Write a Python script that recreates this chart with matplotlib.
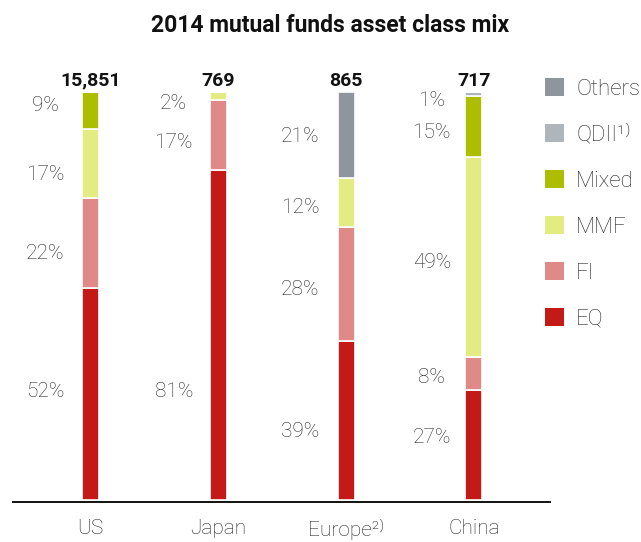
import matplotlib
matplotlib.use("Agg")
import matplotlib.pyplot as plt
from matplotlib.patches import Patch

plt.rcParams['font.family'] = ['Roboto', 'DejaVu Sans']

# data (share of total, %)
regions = ['US', 'Japan', 'Europe²⁾', 'China']
totals = ['15,851', '769', '865', '717']
segments = ['EQ', 'FI', 'MMF', 'Mixed', 'QDII¹⁾', 'Others']
eq = [52, 81, 39, 27]
fi = [22, 17, 28, 8]
mmf = [17, 2, 12, 49]
mixed = [9, 0, 0, 15]
qdii = [0, 0, 0, 1]
others = [0, 0, 21, 0]

# where the designer put each % label (height in bar units), same order as series
label_y = [
    [26.5, 26.5, 16.7, 15.4],   # EQ
    [60.5, 87.5, 51.7, 29.9],   # FI
    [79.7, 97.1, 71.8, 58.1],   # MMF
    [96.8, 0, 0, 90.0],         # Mixed
    [0, 0, 0, 97.8],            # QDII
    [0, 0, 89.2, 0],            # Others
]
label_dx = [-0.355, -0.35, -0.36, -0.33]

colors = ['#C41A17', '#E08A87', '#E3EB83', '#ADBD00', '#AEB5BB', '#8E959C']
series = [eq, fi, mmf, mixed, qdii, others]
txt = '#262626'

fig = plt.figure(figsize=(6.41, 5.42), dpi=100)
ax = fig.add_axes([13 / 641, 40 / 542, 537 / 641, 410 / 542])

x = range(len(regions))
w = 0.133
bottoms = [0] * len(regions)
for k, (vals, c) in enumerate(zip(series, colors)):
    ax.bar(x, vals, w, bottom=bottoms, color=c, edgecolor='white', linewidth=1.2)
    for i, v in enumerate(vals):
        if v > 0:
            ax.text(i + label_dx[i], label_y[k][i], f'{v}%', ha='center', va='center',
                    fontsize=15, fontweight='light', color=txt)
    bottoms = [b + v for b, v in zip(bottoms, vals)]

for i, t in enumerate(totals):
    ax.text(i, 101.5, t, ha='center', va='baseline', fontsize=14,
            fontweight='bold', color='#111111')

ax.set_xlim(-0.608, 3.595)
ax.set_ylim(-0.5, 100)
ax.set_xticks(list(x))
ax.set_xticklabels(regions, fontsize=15, fontweight='light', color=txt)
ax.tick_params(axis='x', length=0, pad=12)
ax.set_yticks([])
for s in ['top', 'right', 'left']:
    ax.spines[s].set_visible(False)
ax.spines['bottom'].set_linewidth(1.4)
ax.spines['bottom'].set_color('#111111')

handles = [Patch(facecolor=c, edgecolor='none', label=l)
           for c, l in zip(colors, segments)][::-1]
leg = fig.legend(handles=handles, loc='upper left', bbox_to_anchor=(545 / 641, 1 - 78 / 542),
                 frameon=False, fontsize=16, handlelength=0.85, handleheight=0.85,
                 handletextpad=0.55, labelspacing=1.1, borderpad=0, borderaxespad=0)
for t in leg.get_texts():
    t.set_fontweight('light')
    t.set_color(txt)

fig.text(330 / 641, 1 - 25 / 542, '2014 mutual funds asset class mix', ha='center',
         va='center', fontsize=16.5, fontweight='bold', color='#111111')

fig.savefig('out.png', dpi=100)
